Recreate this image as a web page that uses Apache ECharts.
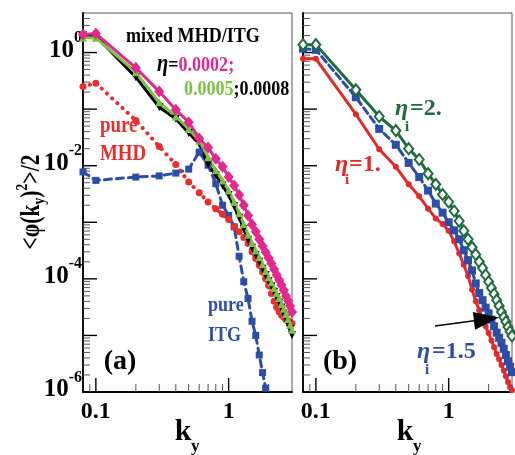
<!DOCTYPE html>
<html>
<head>
<meta charset="utf-8">
<script src="https://cdn.jsdelivr.net/npm/echarts@6.0.0/dist/echarts.min.js"></script>
<style>
html,body{margin:0;padding:0;background:#fff;}
#chart{width:515px;height:455px;}
</style>
</head>
<body>
<div id="chart"></div>
<script>
// k_y sample points (the first one sits at the left edge of the axis)
const ky = [0.08, 0.1, 0.2, 0.3, 0.4, 0.5, 0.6, 0.7, 0.8, 0.9, 1.0, 1.1, 1.2, 1.3, 1.4, 1.5,
            1.6, 1.7, 1.8, 1.9, 2.0, 2.1, 2.2, 2.3, 2.4, 2.5, 2.6, 2.7, 2.8, 2.9, 3.0];

// Panel (a): mixed MHD/ITG for three eta values, pure MHD, pure ITG
const mixedEta0002 = [2.09, 2.16, 0.537, 0.204, 0.0977, 0.0589, 0.0302, 0.0209, 0.0132, 0.00955, 0.00631,
  0.00447, 0.00302, 0.0020, 0.00132, 9.1e-4, 6.8e-4, 5.0e-4, 3.8e-4, 2.95e-4, 2.34e-4,
  1.86e-4, 1.48e-4, 1.17e-4, 9.5e-5, 7.8e-5, 6.3e-5, 5.0e-5, 4.1e-5, 3.3e-5, 2.6e-5];
const mixedEta0005 = [1.82, 1.82, 0.447, 0.132, 0.0741, 0.0447, 0.0275, 0.0141, 0.00832, 0.0055, 0.00363,
  0.00229, 0.00145, 9.3e-4, 6.0e-4, 4.3e-4, 3.16e-4, 2.4e-4, 1.82e-4, 1.38e-4, 1.07e-4,
  8.7e-5, 6.9e-5, 5.6e-5, 4.6e-5, 3.6e-5, 2.95e-5, 2.4e-5, 1.95e-5, 1.55e-5, 1.26e-5];
const mixedEta0008 = [2.0, 1.95, 0.367, 0.108, 0.0676, 0.038, 0.0245, 0.0105, 0.00676, 0.00447, 0.00302,
  0.00191, 0.0012, 7.6e-4, 4.9e-4, 3.55e-4, 2.63e-4, 2.0e-4, 1.51e-4, 1.17e-4, 9.1e-5,
  7.4e-5, 5.9e-5, 4.8e-5, 3.8e-5, 3.1e-5, 2.45e-5, 2.0e-5, 1.58e-5, 1.29e-5, 1.02e-5];
const pureMHD = [0.251, 0.288, 0.063, 0.0219, 0.0105, 0.00513, 0.00331, 0.00229, 0.00174, 0.00138, 0.00112,
  8.3e-4, 6.8e-4, 5.4e-4, 4.2e-4, 3.0e-4, 2.3e-4, 1.74e-4, 1.32e-4, 1.0e-4, 7.6e-5,
  5.5e-5, 4.0e-5, 3.16e-5, 2.63e-5, 2.3e-5, 2.1e-5, 1.9e-5, 1.82e-5, 1.74e-5, 1.62e-5];
const pureITG = [0.00776, 0.0055, 0.0063, 0.0066, 0.0074, 0.0087, 0.0174, 0.0102, 0.0048, 0.0020, 0.00132,
  8.3e-4, 2.5e-4, 8.9e-5, 4.5e-5, 1.78e-5, 1.0e-5, 4.5e-6, 2.2e-6, 1.17e-6, 4.0e-7];

// Panel (b): eta_i = 2, 1.5, 1
const etaI2 = [1.38, 1.38, 0.219, 0.0741, 0.0417, 0.020, 0.0129, 0.00724, 0.00468, 0.00309, 0.00229,
  0.00158, 0.00105, 7.1e-4, 5.0e-4, 3.6e-4, 2.7e-4, 2.0e-4, 1.55e-4, 1.17e-4, 8.9e-5,
  6.9e-5, 5.4e-5, 4.2e-5, 3.3e-5, 2.6e-5, 2.1e-5, 1.74e-5, 1.41e-5, 1.17e-5, 9.8e-6];
const etaI15 = [1.17, 1.12, 0.162, 0.0447, 0.0234, 0.0112, 0.0063, 0.00363, 0.00214, 0.00148, 0.0010,
  7.2e-4, 5.0e-4, 3.2e-4, 2.14e-4, 1.41e-4, 8.3e-5, 5.6e-5, 4.2e-5, 3.1e-5, 2.45e-5,
  1.9e-5, 1.45e-5, 1.12e-5, 9.1e-6, 7.4e-6, 5.8e-6, 4.5e-6, 3.5e-6, 2.8e-6, 2.24e-6];
const etaI1 = [0.776, 0.776, 0.0813, 0.0195, 0.00955, 0.00468, 0.00288, 0.00174, 0.00117, 9.3e-4, 7.1e-4,
  4.6e-4, 2.8e-4, 1.78e-4, 1.12e-4, 6.5e-5, 4.0e-5, 2.8e-5, 2.0e-5, 1.45e-5, 1.1e-5,
  8.1e-6, 6.2e-6, 4.7e-6, 3.8e-6, 3.0e-6, 2.4e-6, 1.9e-6, 1.5e-6, 1.23e-6, 1.07e-6];

// Axis ticks and labels
const xTickLabels = ['0.1', '1'];
const xTickValues = [0.09, 0.1, 0.2, 0.3, 0.4, 0.5, 0.6, 0.7, 0.8, 0.9, 1, 2];
const yLabelExponents = [0, -2, -4, -6];
const yDecades = [-6, -5, -4, -3, -2, -1, 0];
const yMantissas = [1, 2, 3, 4, 5, 6, 7, 8, 9];
const X_MIN = 0.08, X_MAX = 3, Y_MIN = 1e-6, Y_MAX = 5;

const F = '"Liberation Serif","Times New Roman",serif';

const yTickValues = [];
yDecades.forEach(e => yMantissas.forEach(m => {
  const v = m * Math.pow(10, e);
  if (v < Y_MAX * 0.99) yTickValues.push([v, m === 1 ? 1 : 0]);
}));

function pts(arr) { return arr.map((v, i) => [ky[i], v]); }

function yTickSeries(gi) {
  return {
    type: 'custom', xAxisIndex: gi, yAxisIndex: gi, silent: true, clip: false, z: 1,
    data: yTickValues.map(t => [X_MIN, t[0], t[1]]),
    renderItem: (params, api) => {
      const p = api.coord([api.value(0), api.value(1)]);
      const major = api.value(2) === 1;
      return { type: 'line', shape: { x1: p[0], y1: p[1], x2: p[0] + (major ? 14 : 7), y2: p[1] },
        style: { stroke: major ? '#000' : '#555', lineWidth: major ? 1.4 : 1 } };
    }
  };
}
function xTickSeries(gi) {
  return {
    type: 'custom', xAxisIndex: gi, yAxisIndex: gi, silent: true, clip: false, z: 1,
    data: xTickValues.map(v => [v, Y_MIN, (v === 0.1 || v === 1) ? 1 : 0]),
    renderItem: (params, api) => {
      const p = api.coord([api.value(0), api.value(1)]);
      const major = api.value(2) === 1;
      return { type: 'line', shape: { x1: p[0], y1: p[1], x2: p[0], y2: p[1] - (major ? 14 : 8) },
        style: { stroke: major ? '#000' : '#555', lineWidth: major ? 1.4 : 1 } };
    }
  };
}

function xAxisCfg(gi) {
  return {
    type: 'log', logBase: 10, gridIndex: gi, min: X_MIN, max: X_MAX,
    axisLine: { show: true, onZero: false, lineStyle: { color: '#000', width: 1.8 } },
    axisTick: { show: false }, splitLine: { show: false }, minorTick: { show: false },
    axisLabel: {
      show: true, interval: 0, margin: 8, showMinLabel: true, showMaxLabel: true,
      fontFamily: F, fontSize: 24, fontWeight: 'bold', color: '#000', lineHeight: 24,
      formatter: v => {
        const s = xTickLabels.find(t => Math.abs(Math.log10(parseFloat(t)) - Math.log10(v)) < 1e-6);
        return s || '';
      }
    }
  };
}
function yAxisCfg(gi, labels) {
  return {
    type: 'log', logBase: 10, gridIndex: gi, min: Y_MIN, max: Y_MAX,
    axisLine: { show: true, onZero: false, lineStyle: { color: '#000', width: 1.8 } },
    axisTick: { show: false }, splitLine: { show: false }, minorTick: { show: false },
    axisLabel: {
      show: labels, interval: 0, margin: 1, padding: [0, 0, 4, 0],
      formatter: v => {
        const l = Math.log10(v), e = Math.round(l);
        if (Math.abs(l - e) > 1e-6 || yLabelExponents.indexOf(e) < 0) return '';
        return '{b|10}{s|' + e + '}';
      },
      rich: {
        b: { fontFamily: F, fontSize: 25, fontWeight: 'bold', color: '#000', lineHeight: 26 },
        s: { fontFamily: F, fontSize: 16, fontWeight: 'bold', color: '#000', lineHeight: 16, padding: [0, 0, 25, 0] }
      }
    }
  };
}

const MAG = '#e4288e', LGREEN = '#7cc242', RED = '#ec2d2d', BLUE = '#2d4ea6', DGREEN = '#1f6b3c', RED2 = '#e12a2a';

function lineSeries(gi, data, color, symbol, size, lineType, width, extra) {
  return Object.assign({
    type: 'line', xAxisIndex: gi, yAxisIndex: gi, data: data, symbol: symbol, symbolSize: size,
    showSymbol: true, clip: true, silent: true, z: 3,
    lineStyle: { color: color, width: width, type: lineType, cap: 'round', join: 'round' },
    itemStyle: { color: color }
  }, extra || {});
}

function txt(x, y, text, size, color, opt) {
  opt = opt || {};
  return {
    type: 'text', x: x, y: y, z: 100, silent: true, rotation: opt.rotation || 0,
    scaleX: opt.sx || 1, scaleY: 1,
    style: {
      text: text, fontFamily: F, fontSize: size, fontWeight: 'bold', fontStyle: opt.italic ? 'italic' : 'normal',
      fill: color, align: opt.align || 'left', verticalAlign: 'middle',
      textAlign: opt.align || 'left', textVerticalAlign: 'middle', rich: opt.rich
    }
  };
}

const SX = 0.82; // the annotation lettering of the figure is narrow

const option = {
  animation: false,
  backgroundColor: '#fff',
  grid: [
    { left: 83, top: 13, width: 209, height: 379, show: true, borderColor: '#555', borderWidth: 1, backgroundColor: 'transparent' },
    { left: 303, top: 13, width: 213, height: 379, show: true, borderColor: '#555', borderWidth: 1, backgroundColor: 'transparent' }
  ],
  xAxis: [xAxisCfg(0), xAxisCfg(1)],
  yAxis: [yAxisCfg(0, true), yAxisCfg(1, false)],
  series: [
    yTickSeries(0), xTickSeries(0), yTickSeries(1), xTickSeries(1),
    // panel (a)
    lineSeries(0, pts(pureITG), BLUE, 'rect', 7, [7, 5], 3),
    lineSeries(0, pts(pureMHD), RED, 'circle', 7, [0.1, 7], 4),
    lineSeries(0, pts(mixedEta0008), '#000', 'triangle', 8, 'solid', 3, { symbolRotate: 180 }),
    lineSeries(0, pts(mixedEta0005), LGREEN, 'triangle', 8, 'solid', 3),
    lineSeries(0, pts(mixedEta0002), MAG, 'diamond', [10, 12], 'solid', 3),
    // panel (b)
    lineSeries(1, pts(etaI1), RED2, 'circle', 6, 'solid', 3),
    lineSeries(1, pts(etaI15), BLUE, 'rect', 8, [7, 4], 3),
    lineSeries(1, pts(etaI2), DGREEN, 'emptyDiamond', [9, 11], 'solid', 3,
      { itemStyle: { color: DGREEN, borderColor: DGREEN, borderWidth: 1.2 } })
  ],
  graphic: [
    // y axis name
    txt(32, 202, '<φ(k{sub|y}){sup|2}>/2', 27, '#000', {
      rotation: Math.PI / 2, align: 'center', sx: 0.8,
      rich: {
        sub: { fontFamily: F, fontSize: 17, fontWeight: 'bold', fill: '#000', lineHeight: 17, padding: [15, 0, 0, 0] },
        sup: { fontFamily: F, fontSize: 17, fontWeight: 'bold', fill: '#000', lineHeight: 17, padding: [0, 0, 19, 0] }
      }
    }),
    // x axis names
    txt(183, 432, 'k', 30, '#000', { align: 'center' }),
    txt(191, 447, 'y', 17, '#000'),
    txt(405, 432, 'k', 30, '#000', { align: 'center' }),
    txt(413, 447, 'y', 17, '#000'),
    // panel (a) annotations
    txt(126, 36, 'mixed MHD/ITG', 22, '#000', { sx: SX }),
    txt(157, 65, '{e|η}{k|=}{m|0.0002;}', 22, '#000', {
      sx: SX,
      rich: {
        e: { fontFamily: F, fontSize: 25, fontWeight: 'bold', fontStyle: 'italic', fill: '#000' },
        k: { fontFamily: F, fontSize: 22, fontWeight: 'bold', fill: '#000' },
        m: { fontFamily: F, fontSize: 22, fontWeight: 'bold', fill: MAG }
      }
    }),
    txt(184, 89, '{g|0.0005}{k|;0.0008}', 22, '#000', {
      sx: SX,
      rich: {
        g: { fontFamily: F, fontSize: 22, fontWeight: 'bold', fill: LGREEN },
        k: { fontFamily: F, fontSize: 22, fontWeight: 'bold', fill: '#000' }
      }
    }),
    txt(100, 126, 'pure', 23, RED, { sx: SX }),
    txt(100, 154, 'MHD', 23, RED, { sx: SX }),
    txt(208, 305, 'pure', 22, BLUE, { sx: SX }),
    txt(208, 335, 'ITG', 22, BLUE, { sx: SX }),
    txt(120, 362, '(a)', 28, '#000', { align: 'center' }),
    // panel (b) annotations
    txt(340, 362, '(b)', 28, '#000', { align: 'center' }),
    txt(395, 109, 'η', 24, DGREEN, { italic: true }),
    txt(405, 127, 'i', 15, DGREEN),
    txt(410, 109, '=2.', 24, DGREEN),
    txt(335, 165, 'η', 24, RED2, { italic: true }),
    txt(345, 180, 'i', 15, RED2),
    txt(349, 165, '=1.', 24, RED2),
    txt(417, 352, 'η', 24, BLUE, { italic: true }),
    txt(425, 370, 'i', 15, BLUE),
    txt(432, 352, '=1.5', 24, BLUE),
    // arrow
    { type: 'line', z: 100, silent: true, shape: { x1: 435, y1: 326, x2: 476, y2: 320.6 }, style: { stroke: '#000', lineWidth: 1.5 } },
    { type: 'polygon', z: 100, silent: true, shape: { points: [[499, 317.6], [475, 329.7], [472.8, 311.9]] }, style: { fill: '#000' } }
  ]
};

const chart = echarts.init(document.getElementById('chart'), null, { renderer: 'canvas' });
chart.setOption(option);
</script>
</body>
</html>
